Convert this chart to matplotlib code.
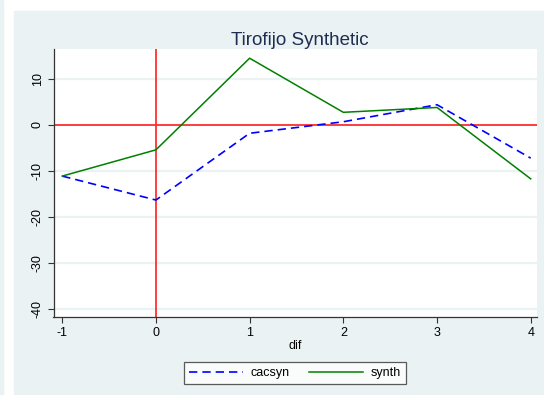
import matplotlib.pyplot as plt
from matplotlib.patches import Rectangle

plt.rcParams['font.family'] = ['Liberation Sans', 'DejaVu Sans']
plt.rcParams['axes.unicode_minus'] = False

# data
dif = [-1, 0, 1, 2, 3, 4]
cacsyn = [-11.1, -16.3, -1.8, 0.7, 4.4, -7.2]
synth = [-11.1, -5.4, 14.5, 2.75, 3.8, -11.7]
yticks = [-40, -30, -20, -10, 0, 10]

W, H = 544, 395
bg = '#eaf2f3'

fig = plt.figure(figsize=(W / 100, H / 100), dpi=100)
fig.patch.set_facecolor('white')
# stata-like panel behind the graph
fig.patches.append(Rectangle((14 / W, 0), 1 - 14 / W, 1 - 11 / H,
                             transform=fig.transFigure, color=bg, zorder=-5))
fig.patches.append(Rectangle((0, 0), 3 / W, 1, transform=fig.transFigure,
                             color=bg, zorder=-5))

ax = fig.add_axes([53.5 / W, 1 - 317 / H, (537 - 53.5) / W, (317 - 49) / H])
ax.set_facecolor('white')

for y in yticks:
    ax.axhline(y, color=bg, lw=1.6, zorder=1)
ax.axhline(0, color='#ff3030', lw=1.3, zorder=2)
ax.axvline(0, color='#ff3030', lw=1.3, zorder=2)

ax.plot(dif, cacsyn, color='#0000ff', lw=1.2, dashes=(5, 3), label='cacsyn', zorder=3)
ax.plot(dif, synth, color='#008000', lw=1.1, label='synth', zorder=3)

ax.set_xlim(-1.093, 4.067)
ax.set_ylim(-41.7, 16.5)
ax.set_xticks(dif)
ax.set_yticks(yticks)
ax.set_yticklabels([str(v) for v in yticks], rotation=90, va='center')
ax.tick_params(labelsize=9, length=4, width=0.8, color='#333333', pad=3)

for s in ['top', 'right']:
    ax.spines[s].set_visible(False)
for s in ['left', 'bottom']:
    ax.spines[s].set_color('#333333')
    ax.spines[s].set_linewidth(0.9)

ax.set_xlabel('dif', fontsize=9, labelpad=1)
ax.set_title('Tirofijo Synthetic', fontsize=13.5, color='#1e2d50', pad=3,
             x=0.51)

leg = ax.legend(loc='center', bbox_to_anchor=(295 / W, 1 - 373 / H),
                bbox_transform=fig.transFigure, ncol=2, fontsize=9,
                frameon=True, fancybox=False, handlelength=4.3,
                columnspacing=1.6, borderpad=0.4, handletextpad=0.6,
                borderaxespad=0)
leg.get_frame().set_edgecolor('#333333')
leg.get_frame().set_linewidth(0.9)

fig.savefig('out.png', dpi=100, facecolor=fig.get_facecolor())
